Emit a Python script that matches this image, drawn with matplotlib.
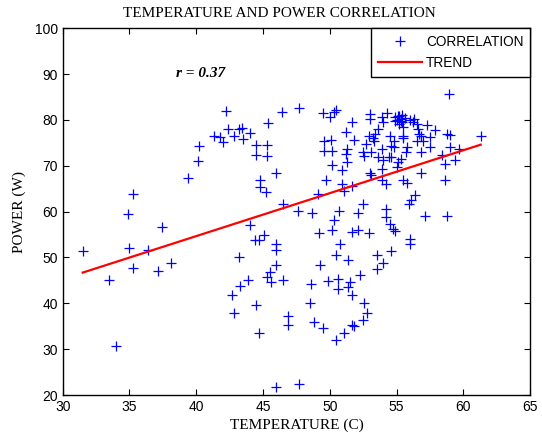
import numpy as np
from matplotlib import pyplot as plt

# temperature (C) / power (W) readings
temperature = [
    31.55, 33.5, 34.0, 34.9, 35.3, 35.0, 35.3, 36.4, 37.4, 37.1, 38.1, 39.4, 40.1, 40.2,
    41.3, 41.8, 42.0, 42.2, 42.4, 42.8, 43.2, 43.4, 43.5, 44.0, 44.5, 44.5, 45.3, 45.3,
    45.4, 46.4, 47.7, 46.0, 44.8, 44.8, 45.2, 46.5, 47.6, 48.7, 44.0, 45.1, 44.4, 44.7,
    46.0, 46.0, 46.0, 43.2, 45.5, 45.3, 45.6, 46.5, 43.9, 43.3, 42.7, 42.8, 44.5, 44.7,
    46.9, 46.9, 46.0, 47.7, 48.6, 48.5, 48.8, 49.5, 49.3, 49.9, 49.2, 50.2, 50.3, 50.7,
    50.8, 50.5, 50.6, 50.6, 51.4, 50.5, 51.1, 51.7, 51.8, 51.5, 51.4, 51.7, 52.3, 52.5,
    52.6, 52.8, 51.7, 52.1, 52.9, 52.1, 52.5, 53.5, 53.5, 54.0, 54.6, 54.2, 54.2, 54.5,
    54.7, 54.9, 56.0, 56.0, 55.9, 56.1, 56.4, 57.1, 58.8, 58.6, 56.8, 55.5, 55.8, 49.1,
    49.7, 50.9, 50.9, 51.1, 50.2, 49.6, 50.2, 49.6, 50.1, 49.5, 50.0, 50.3, 50.5, 51.2,
    51.7, 51.8, 51.3, 51.2, 52.5, 52.6, 52.9, 53.0, 53.0, 53.1, 53.3, 53.4, 53.6, 53.6,
    53.0, 53.1, 53.9, 53.9, 53.9, 54.3, 54.0, 54.0, 54.4, 54.6, 54.5, 54.6, 54.2, 53.9,
    55.0, 55.1, 55.3, 54.9, 55.0, 55.3, 55.4, 55.2, 55.5, 55.5, 55.5, 55.8, 55.7, 56.0,
    56.3, 56.5, 56.6, 56.7, 56.8, 56.5, 57.0, 57.3, 57.5, 57.5, 56.8, 57.9, 58.4, 58.6,
    58.9, 58.8, 59.0, 59.0, 59.4, 59.7, 61.3, 54.8, 54.8, 51.7, 55.1, 55.3, 55.6, 55.2,
    54.9, 55.4, 56.2, 53.2, 52.7, 51.3,
]
power = [
    51.4, 45.0, 30.7, 59.5, 63.9, 52.1, 47.6, 51.6, 56.6, 47.1, 48.7, 67.4, 71.0, 74.3,
    76.5, 76.2, 75.2, 82.0, 78.1, 76.6, 78.1, 78.3, 75.9, 77.1, 74.6, 72.4, 74.6, 72.1,
    79.4, 81.8, 82.6, 68.4, 67.0, 65.4, 64.2, 61.7, 60.1, 59.6, 57.0, 54.8, 53.7, 53.7,
    52.9, 51.7, 48.3, 50.0, 46.9, 45.8, 44.7, 45.0, 45.0, 43.8, 41.9, 37.8, 39.6, 33.6,
    37.2, 35.2, 21.8, 22.3, 44.3, 40.0, 36.0, 34.7, 48.4, 44.8, 55.4, 55.9, 58.1, 60.1,
    53.0, 50.5, 45.4, 43.1, 49.5, 32.0, 33.6, 35.2, 35.0, 44.7, 43.6, 41.8, 46.1, 36.3,
    40.0, 37.9, 55.6, 55.9, 55.4, 59.7, 61.7, 50.5, 47.4, 48.8, 51.4, 60.6, 58.8, 57.4,
    56.3, 55.8, 54.1, 52.9, 61.7, 62.5, 63.7, 59.0, 59.0, 66.8, 68.4, 66.8, 66.3, 63.8,
    67.0, 69.1, 66.1, 64.6, 70.2, 73.3, 73.3, 75.5, 75.7, 81.5, 80.6, 81.8, 82.2, 77.3,
    79.5, 75.7, 73.7, 72.6, 73.0, 72.2, 76.5, 81.2, 80.2, 73.0, 75.5, 77.0, 78.1, 71.9,
    68.4, 68.0, 69.3, 73.7, 80.6, 81.5, 79.5, 71.2, 71.9, 71.9, 76.5, 74.4, 66.1, 66.8,
    69.7, 70.8, 71.5, 80.6, 80.0, 80.2, 79.5, 79.1, 78.4, 76.6, 76.1, 74.1, 73.0, 79.9,
    80.1, 79.1, 78.1, 77.0, 76.6, 75.5, 75.5, 78.9, 76.2, 74.1, 73.0, 77.7, 72.4, 70.3,
    85.7, 77.0, 76.8, 74.2, 71.2, 73.7, 76.6, 75.5, 74.1, 65.5, 80.8, 79.8, 80.4, 80.9,
    79.7, 81.0, 79.6, 76.0, 74.8, 70.9,
]

# fitted trend line end points
trend_x = [31.5, 61.3]
trend_y = [46.7, 74.6]

r_text = "r = 0.37"

serif = "Liberation Serif"
sans = "Liberation Sans"

fig = plt.figure(figsize=(5.42, 4.41), dpi=100)
ax = fig.add_axes([0.1157, 0.1043, 0.8623, 0.8317])

ax.plot(temperature, power, linestyle="none", marker="+", markersize=7,
        markeredgewidth=0.9, color="blue", label="CORRELATION")
ax.plot(trend_x, trend_y, color="red", linewidth=1.6, label="TREND")

ax.set_xlim(30, 65)
ax.set_ylim(20, 100)
ax.set_xticks(np.arange(30, 66, 5))
ax.set_yticks(np.arange(20, 101, 10))
ax.tick_params(direction="in", top=True, right=True, length=4, labelsize=10)
for lbl in ax.get_xticklabels() + ax.get_yticklabels():
    lbl.set_fontfamily(sans)

ax.set_title("TEMPERATURE AND POWER CORRELATION", fontfamily=serif, fontsize=11,
             x=0.463, pad=8)
ax.set_xlabel("TEMPERATURE (C)", fontfamily=serif, fontsize=11, labelpad=3)
ax.set_ylabel("POWER (W)", fontfamily=serif, fontsize=11, labelpad=6)

ax.text(40.3, 90.2, r_text, fontfamily=serif, fontstyle="italic", fontweight="bold",
        fontsize=11, ha="center", va="center")

leg = ax.legend(loc="upper right", prop={"family": sans, "size": 9.8},
                fancybox=False, framealpha=1, edgecolor="black",
                borderaxespad=0, handlelength=3.2, handletextpad=0.3,
                borderpad=0.5, labelspacing=0.5)
leg.get_frame().set_linewidth(1.0)

for s in ax.spines.values():
    s.set_linewidth(1.0)

fig.savefig("out.png", dpi=100)
